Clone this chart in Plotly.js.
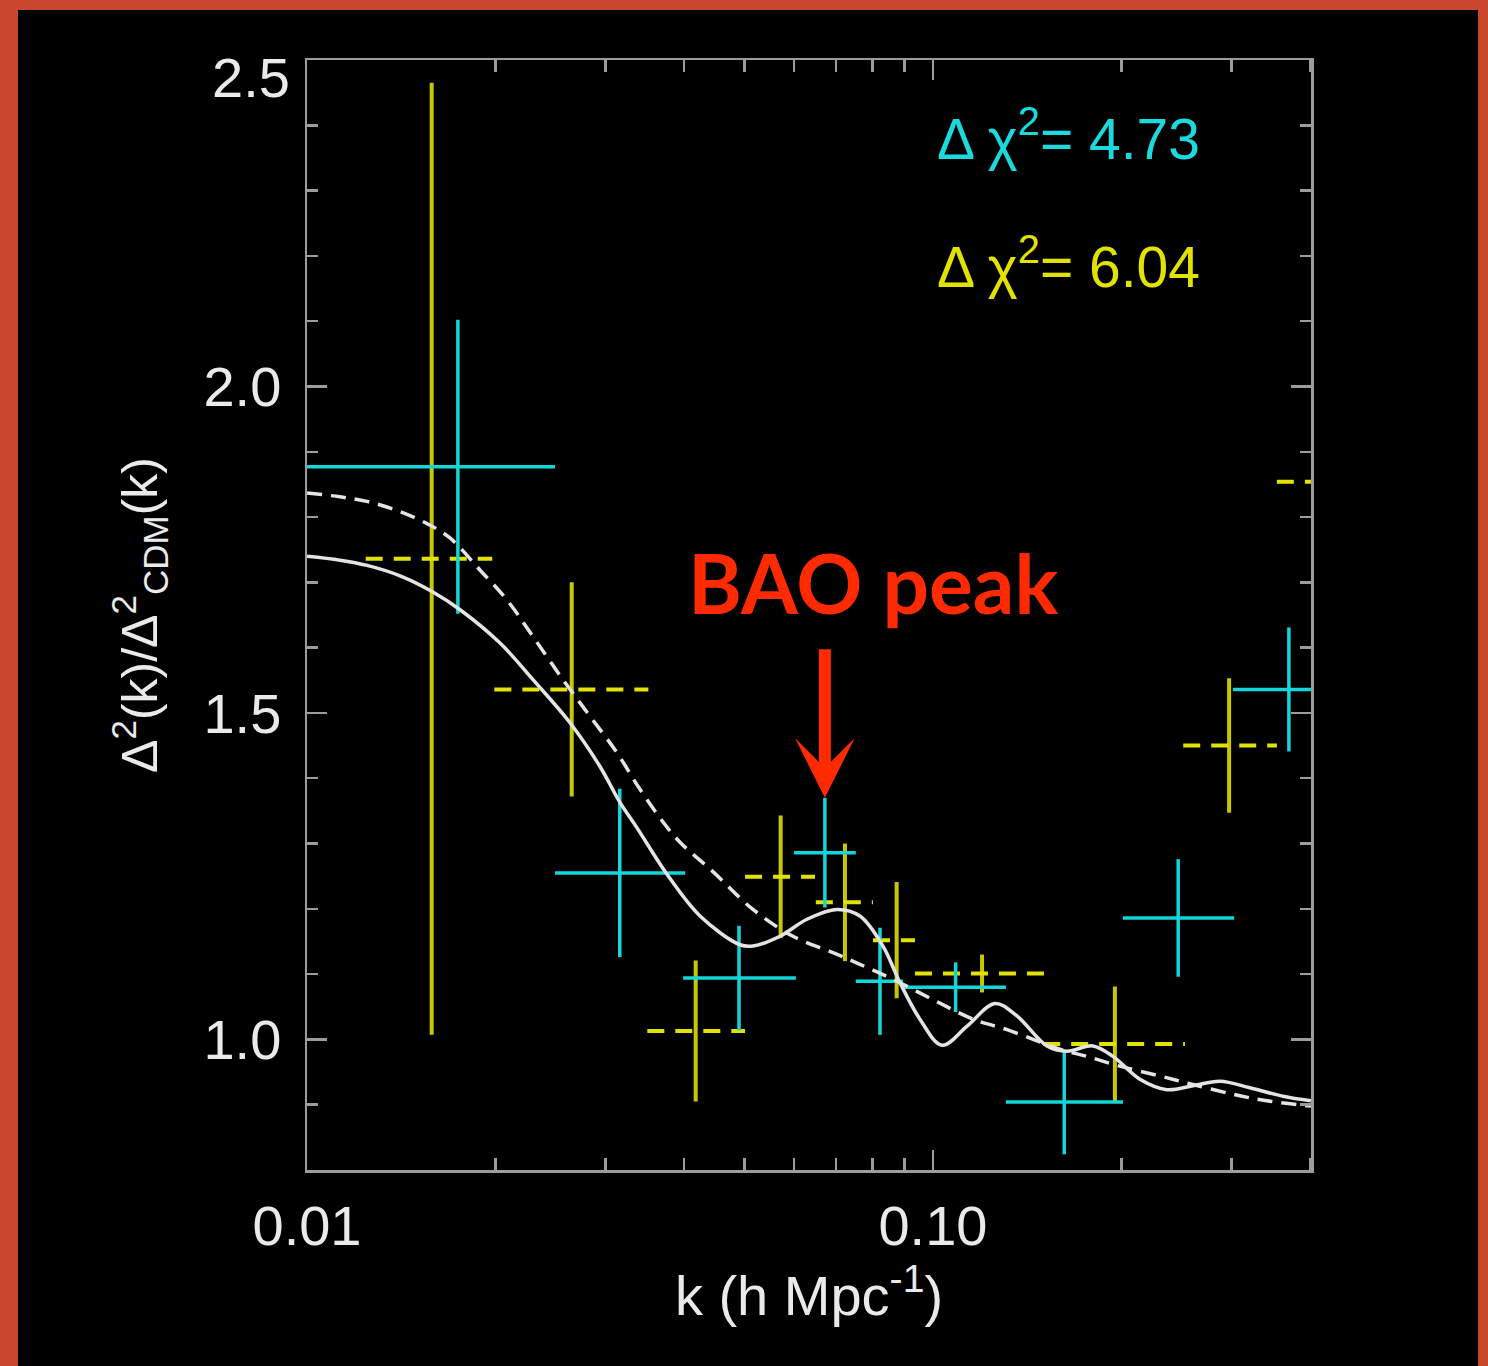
<!DOCTYPE html>
<html>
<head>
<meta charset="utf-8">
<script src="https://cdn.plot.ly/plotly-3.0.1.min.js"></script>
<style>
  html, body { margin: 0; padding: 0; width: 1488px; height: 1366px; overflow: hidden; background: #C9472D; }
  #chart { position: absolute; left: 18px; top: 10px; width: 1460px; height: 1356px; }
</style>
</head>
<body>
<div id="chart"></div>
<script>
// ---------- data ----------
// Cyan measurements: centre k, bin edges, value, symmetric error
const cyanK    = [0.01742, 0.0316, 0.0490, 0.0672, 0.0823, 0.1087, 0.1621, 0.2465, 0.3704];
const cyanKlo  = [0.0100, 0.0249, 0.0399, 0.0600, 0.0753, 0.0896, 0.1308, 0.2011, 0.3015];
const cyanKhi  = [0.0249, 0.0402, 0.0604, 0.0753, 0.0896, 0.1308, 0.2012, 0.3029, 0.4200];
const cyanVal  = [1.877, 1.255, 1.094, 1.286, 1.089, 1.080, 0.904, 1.186, 1.536];
const cyanErr  = [0.225, 0.129, 0.080, 0.084, 0.082, 0.038, 0.080, 0.090, 0.095];

// Yellow measurements
const yellowK   = [0.01582, 0.02648, 0.04178, 0.05711, 0.07235, 0.0875, 0.1198, 0.1953, 0.2973, 0.4200];
const yellowKlo = [0.01241, 0.01992, 0.03497, 0.0501, 0.0650, 0.0802, 0.0936, 0.150, 0.2511, 0.3544];
const yellowKhi = [0.01977, 0.0351, 0.0501, 0.0648, 0.0802, 0.0936, 0.151, 0.2527, 0.3544, 0.5000];
const yellowVal = [1.736, 1.536, 1.013, 1.249, 1.210, 1.152, 1.101, 0.993, 1.450, 1.854];
const yellowErr = [0.729, 0.164, 0.108, 0.094, 0.090, 0.089, 0.029, 0.088, 0.103, 0.100];

// Model with BAO wiggles (solid white)
const solidK = [0.0100, 0.01129, 0.01247, 0.01408, 0.01584, 0.01756, 0.02034, 0.02296, 0.02631, 0.02938, 0.03162,
                0.03367, 0.03759, 0.04245, 0.04917, 0.05158, 0.05697, 0.06292, 0.07024, 0.07643, 0.08320,
                0.08858, 0.09533, 0.1034, 0.1133, 0.1256, 0.1362, 0.1521, 0.1637, 0.1801, 0.1939,
                0.2141, 0.2365, 0.2602, 0.2874, 0.3209, 0.3624, 0.4017];
const solidVal = [1.740, 1.734, 1.726, 1.710, 1.686, 1.658, 1.607, 1.551, 1.485, 1.418, 1.363,
                  1.324, 1.253, 1.189, 1.145, 1.143, 1.158, 1.184, 1.199, 1.189, 1.143,
                  1.087, 1.031, 0.991, 1.020, 1.055, 1.036, 0.990, 0.982, 0.990, 0.974,
                  0.939, 0.923, 0.929, 0.936, 0.926, 0.913, 0.906];

// Smooth model without wiggles (dashed white)
const dashK = [0.0100, 0.01129, 0.01247, 0.01393, 0.01555, 0.01692, 0.01889, 0.02087, 0.02296, 0.02564,
               0.02832, 0.03128, 0.03404, 0.03705, 0.03943, 0.04452, 0.05158, 0.05976, 0.06924, 0.07643,
               0.08634, 0.1000, 0.1159, 0.1313, 0.1595, 0.1762, 0.1989, 0.2305, 0.2602, 0.3015,
               0.3416, 0.4017];
const dashVal = [1.837, 1.831, 1.824, 1.810, 1.790, 1.768, 1.719, 1.673, 1.617, 1.551,
                 1.495, 1.439, 1.383, 1.333, 1.302, 1.257, 1.199, 1.158, 1.133, 1.115,
                 1.092, 1.061, 1.031, 1.015, 0.985, 0.974, 0.959, 0.944, 0.931, 0.916,
                 0.906, 0.898];

const xTickVals = [0.01, 0.1];
const xTickText = ['0.01', '0.10'];
const xMinorVals = [0.02, 0.03, 0.04, 0.05, 0.06, 0.07, 0.08, 0.09, 0.2, 0.3, 0.4];
const yTickVals = [1.0, 1.5, 2.0];
const yTickText = ['1.0', '1.5', '2.0'];
const yTopLabel = '2.5';
const chiCyan = '4.73';
const chiYellow = '6.04';
const baoIndex = 3; // cyan point marked as BAO peak

// ---------- helpers to build segment traces from the arrays ----------
function hSegs(lo, hi, v) {
  const x = [], y = [];
  for (let i = 0; i < v.length; i++) { x.push(lo[i], hi[i], null); y.push(v[i], v[i], null); }
  return {x, y};
}
function vSegs(k, v, e) {
  const x = [], y = [];
  for (let i = 0; i < v.length; i++) { x.push(k[i], k[i], null); y.push(v[i] - e[i], v[i] + e[i], null); }
  return {x, y};
}

const CYAN = '#12D6DA';
const YELLOW = '#C8C800';
const YTEXT = '#E2E200';
const WHITE = '#E4E4E4';
const AXIS = '#9C9C9C';

const yH = hSegs(yellowKlo, yellowKhi, yellowVal);
const yV = vSegs(yellowK, yellowVal, yellowErr);
const cH = hSegs(cyanKlo, cyanKhi, cyanVal);
const cV = vSegs(cyanK, cyanVal, cyanErr);

const traces = [
  {x: yV.x, y: yV.y, type: 'scatter', mode: 'lines', line: {color: YELLOW, width: 4}, hoverinfo: 'skip'},
  {x: yH.x, y: yH.y, type: 'scatter', mode: 'lines', line: {color: YTEXT, width: 4, dash: '17px,11px'}, hoverinfo: 'skip'},
  {x: cV.x, y: cV.y, type: 'scatter', mode: 'lines', line: {color: CYAN, width: 3.5}, hoverinfo: 'skip'},
  {x: cH.x, y: cH.y, type: 'scatter', mode: 'lines', line: {color: CYAN, width: 3.5}, hoverinfo: 'skip'},
  {x: dashK, y: dashVal, type: 'scatter', mode: 'lines', line: {color: WHITE, width: 3.5, dash: '15px,9px', shape: 'spline', smoothing: 1}},
  {x: solidK, y: solidVal, type: 'scatter', mode: 'lines', line: {color: WHITE, width: 3.5, shape: 'spline', smoothing: 1}}
];

const tickFont = {family: 'Liberation Sans, Arial, sans-serif', size: 56, color: '#EAEAEA'};

const layout = {
  width: 1460, height: 1356,
  paper_bgcolor: '#000000', plot_bgcolor: '#000000',
  margin: {l: 289, r: 167, t: 50, b: 196},
  showlegend: false,
  font: {family: 'Liberation Sans, Arial, sans-serif', color: '#EAEAEA'},
  xaxis: {
    type: 'log', range: [-2, -0.396], autorange: false,
    showgrid: false, zeroline: false,
    showline: true, linecolor: AXIS, linewidth: 2.5, mirror: 'ticks',
    ticks: 'inside', ticklen: 20, tickwidth: 2.5, tickcolor: AXIS,
    tickmode: 'array', tickvals: xTickVals, ticktext: xTickText,
    tickfont: tickFont, ticklabelstandoff: 5,
    minor: {tickmode: 'array', tickvals: xMinorVals, ticks: 'inside', ticklen: 12, tickwidth: 2.5, tickcolor: AXIS, showgrid: false},
    title: {text: 'k (h Mpc<sup>-1</sup>)', font: {family: 'Liberation Sans, Arial, sans-serif', size: 56, color: '#EAEAEA'}, standoff: 6}
  },
  yaxis: {
    range: [0.8, 2.5], autorange: false,
    showgrid: false, zeroline: false,
    showline: true, linecolor: AXIS, linewidth: 2.5, mirror: 'ticks',
    ticks: 'inside', ticklen: 20, tickwidth: 2.5, tickcolor: AXIS,
    tickmode: 'array', tickvals: yTickVals, ticktext: yTickText,
    tickfont: tickFont, ticklabelstandoff: 12,
    minor: {dtick: 0.1, tick0: 0.8, ticks: 'inside', ticklen: 11, tickwidth: 2.5, tickcolor: AXIS, showgrid: false},
    title: {text: 'Δ<sup>2</sup>(k)/Δ<sup>2</sup><sub>CDM</sub>(k)', font: {family: 'Liberation Sans, Arial, sans-serif', size: 50, color: '#EAEAEA'}, standoff: 30}
  },
  annotations: [
    {xref: 'paper', yref: 'y', x: 0, y: 2.5, xanchor: 'right', yanchor: 'top', xshift: -15, yshift: 16,
     text: yTopLabel, showarrow: false, font: tickFont},
    {xref: 'paper', yref: 'paper', x: 0.6255, y: 0.9325, xanchor: 'left', yanchor: 'middle',
     text: 'Δ χ<sup>2</sup>= ' + chiCyan, showarrow: false,
     font: {family: 'Liberation Sans, Arial, sans-serif', size: 57, color: '#1ADADE'}},
    {xref: 'paper', yref: 'paper', x: 0.6255, y: 0.8171, xanchor: 'left', yanchor: 'middle',
     text: 'Δ χ<sup>2</sup>= ' + chiYellow, showarrow: false,
     font: {family: 'Liberation Sans, Arial, sans-serif', size: 57, color: YTEXT}},
    {xref: 'paper', yref: 'paper', x: 0.5637, y: 0.5297, xanchor: 'center', yanchor: 'middle',
     text: 'BAO peak', showarrow: false,
     font: {family: 'Lato, Open Sans, sans-serif', size: 82, color: '#FF2A00', weight: 'bold'}},
    {xref: 'x', yref: 'y', x: Math.log10(cyanK[baoIndex]), y: cyanVal[baoIndex] + cyanErr[baoIndex],
     text: '', showarrow: true, arrowhead: 3, arrowsize: 0.83, arrowwidth: 12, arrowcolor: '#FF2A00',
     ax: 0, ay: -150, standoff: 0}
  ]
};

Plotly.newPlot('chart', traces, layout, {displayModeBar: false, staticPlot: true});
</script>
</body>
</html>
